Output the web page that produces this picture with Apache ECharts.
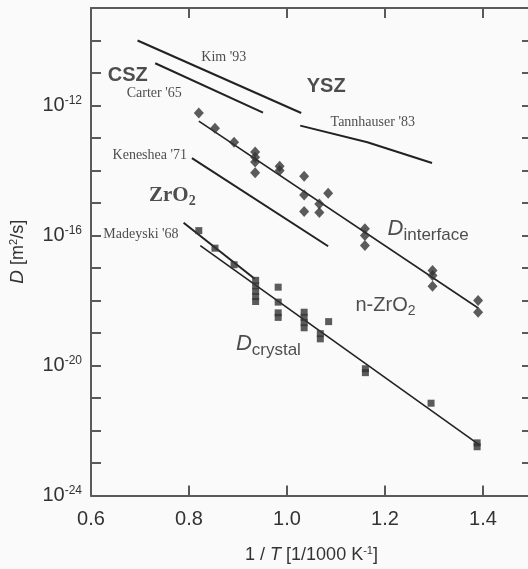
<!DOCTYPE html>
<html><head><meta charset="utf-8">
<script src="https://cdn.jsdelivr.net/npm/echarts@6/dist/echarts.min.js"></script>
<style>html,body{margin:0;padding:0;background:#fafafa;overflow:hidden}#c{width:540px;height:569px}</style>
</head><body><div id="c"></div>
<script>
// x = 1/T [1/1000 K^-1], y = log10(D [m^2/s])
const kimX = [0.695, 1.029], kimY = [-10.0, -12.23];
const carterX = [0.731, 0.951], carterY = [-10.70, -12.22];
const tannX = [1.027, 1.164, 1.296], tannY = [-12.62, -13.13, -13.77];
const keneX = [0.806, 1.084], keneY = [-13.62, -16.33];
const madeX = [0.789, 0.934], madeY = [-15.61, -17.33];

const ifaceX = [0.820, 0.853, 0.892, 0.935, 0.935, 0.935, 0.935, 0.985, 0.985, 1.035, 1.035, 1.035, 1.066, 1.066, 1.084, 1.159, 1.159, 1.159, 1.297, 1.297, 1.297, 1.390, 1.390];
const ifaceY = [-12.23, -12.70, -13.13, -13.43, -13.59, -13.74, -14.07, -13.87, -14.00, -14.18, -14.75, -15.26, -15.03, -15.29, -14.70, -15.79, -16.00, -16.31, -17.08, -17.23, -17.56, -18.00, -18.36];
const ifaceFitX = [0.820, 1.390], ifaceFitY = [-12.48, -18.23];

const crysX = [0.820, 0.853, 0.892, 0.936, 0.936, 0.936, 0.936, 0.936, 0.982, 0.982, 0.982, 0.982, 1.035, 1.035, 1.035, 1.035, 1.085, 1.068, 1.068, 1.160, 1.160, 1.294, 1.388, 1.388];
const crysY = [-15.85, -16.39, -16.90, -17.38, -17.55, -17.72, -17.88, -18.03, -17.59, -18.05, -18.38, -18.52, -18.36, -18.52, -18.68, -18.84, -18.65, -19.02, -19.18, -20.10, -20.22, -21.16, -22.38, -22.50];
const crysFitX = [0.823, 1.394], crysFitY = [-16.31, -22.46];

const xTicks = [0.6, 0.8, 1.0, 1.2, 1.4];
const yLabelExps = [-24, -20, -16, -12];

// annotation texts at data positions
const annText = ["Kim '93", "Carter '65", "Tannhauser '83", "Keneshea '71", "Madeyski '68", "CSZ", "YSZ", "ZrO2", "Dinterface", "n-ZrO2", "Dcrystal"];
const annX = [0.871, 0.729, 1.175, 0.720, 0.702, 0.675, 1.080, 0.766, 1.288, 1.201, 0.962];
const annY = [-10.53, -11.64, -12.53, -13.52, -15.97, -11.08, -11.40, -14.77, -15.79, -18.15, -19.33];

const zip = (xs, ys) => xs.map((x, i) => [x, ys[i]]);
const INK = '#222', AX = '#5a5a5a', TXT = '#222';
const SANS = 'Liberation Sans, Arial, sans-serif', SERIF = 'Liberation Serif, Times New Roman, serif';

const richAll = {
  ser: {fontFamily: SERIF, fontSize: 14, color: TXT},
  bs: {fontFamily: SANS, fontSize: 20, fontWeight: 'bold', color: TXT},
  zr: {fontFamily: SERIF, fontSize: 21, fontWeight: 'bold', color: TXT},
  zrs: {fontFamily: SERIF, fontSize: 14, fontWeight: 'bold', color: TXT, padding: [12, 0, 0, 0]},
  dI: {fontFamily: SANS, fontSize: 22, fontStyle: 'italic', color: TXT},
  sub: {fontFamily: SANS, fontSize: 17, color: TXT, padding: [14, 0, 0, 0]},
  n: {fontFamily: SANS, fontSize: 20, color: TXT},
  ns: {fontFamily: SANS, fontSize: 14, color: TXT, padding: [12, 0, 0, 0]}
};
function annFormat(t) {
  if (t === 'CSZ' || t === 'YSZ') return '{bs|' + t + '}';
  if (t === 'ZrO2') return '{zr|ZrO}{zrs|2}';
  if (t === 'n-ZrO2') return '{n|n-ZrO}{ns|2}';
  if (t === 'Dinterface') return '{dI|D}{sub|interface}';
  if (t === 'Dcrystal') return '{dI|D}{sub|crystal}';
  return '{ser|' + t + '}';
}
const annData = annText.map((t, i) => ({value: [annX[i], annY[i]], label: {formatter: annFormat(t)}}));

const lineSeries = (name, xs, ys, w) => ({
  type: 'line', name, data: zip(xs, ys), showSymbol: false, symbol: 'none',
  lineStyle: {color: INK, width: w}, silent: true, z: 2
});

const chart = echarts.init(document.getElementById('c'), null, {renderer: 'canvas'});
chart.setOption({
  animation: false,
  backgroundColor: '#fafafa',
  grid: {left: 88, top: 8, width: 444, height: 489, containLabel: false},
  xAxis: [{
    type: 'value', min: 0.6, max: 1.5, interval: 0.2, position: 'bottom',
    axisLine: {lineStyle: {color: AX, width: 2}},
    axisTick: {inside: true, length: 10, lineStyle: {color: AX, width: 2}},
    splitLine: {show: false},
    axisLabel: {fontFamily: SANS, fontSize: 20, color: '#333', margin: 14,
      formatter: v => xTicks.some(t => Math.abs(t - v) < 1e-6) ? v.toFixed(1) : ''},
    name: '1 / {i|T} [1/1000 K{s|-1}]', nameLocation: 'middle', nameGap: 50,
    nameTextStyle: {fontFamily: SANS, fontSize: 18, color: '#333',
      rich: {i: {fontFamily: SANS, fontSize: 18, fontStyle: 'italic', color: '#333'},
             s: {fontFamily: SANS, fontSize: 11, color: '#333', verticalAlign: 'top', padding: [0, 0, 8, 0]}}}
  }, {
    type: 'value', min: 0.6, max: 1.5, interval: 0.2, position: 'top',
    axisLine: {lineStyle: {color: AX, width: 2}},
    axisTick: {inside: true, length: 10, lineStyle: {color: AX, width: 2}},
    axisLabel: {show: false}, splitLine: {show: false}
  }],
  yAxis: [{
    type: 'value', min: -24, max: -9, interval: 1, position: 'left',
    axisLine: {lineStyle: {color: AX, width: 2}},
    axisTick: {inside: true, length: 10, lineStyle: {color: AX, width: 2}},
    splitLine: {show: false},
    axisLabel: {margin: 9, fontFamily: SANS, color: '#333',
      formatter: v => yLabelExps.indexOf(v) >= 0 ? '{b|10}{s|' + v + '}' : '',
      rich: {b: {fontFamily: SANS, fontSize: 20, color: '#333'},
             s: {fontFamily: SANS, fontSize: 12, color: '#333', padding: [0, 0, 10, 0]}}},
    name: '{i|D} [m{s|2}/s]', nameLocation: 'middle', nameGap: 63, nameRotate: 90,
    nameTextStyle: {fontFamily: SANS, fontSize: 18, color: '#333',
      rich: {i: {fontFamily: SANS, fontSize: 19, fontStyle: 'italic', color: '#333'},
             s: {fontFamily: SANS, fontSize: 11, color: '#333', padding: [0, 0, 9, 0]}}}
  }, {
    type: 'value', min: -24, max: -9, interval: 1, position: 'right',
    axisLine: {lineStyle: {color: AX, width: 2}},
    axisTick: {inside: true, length: 10, lineStyle: {color: AX, width: 2}},
    axisLabel: {show: false}, splitLine: {show: false}
  }],
  series: [
    lineSeries('Kim', kimX, kimY, 2),
    lineSeries('Carter', carterX, carterY, 2),
    lineSeries('Tannhauser', tannX, tannY, 2),
    lineSeries('Keneshea', keneX, keneY, 2),
    lineSeries('Madeyski', madeX, madeY, 2),
    lineSeries('interface fit', ifaceFitX, ifaceFitY, 1.6),
    lineSeries('crystal fit', crysFitX, crysFitY, 1.6),
    {type: 'scatter', name: 'interface', data: zip(ifaceX, ifaceY), symbol: 'diamond', symbolSize: [10, 11],
      itemStyle: {color: '#333'}, silent: true, z: 3},
    {type: 'scatter', name: 'crystal', data: zip(crysX, crysY), symbol: 'rect', symbolSize: 7,
      itemStyle: {color: '#333'}, silent: true, z: 3},
    {type: 'scatter', name: 'annotations', data: annData, symbolSize: 0, silent: true, z: 4,
      label: {show: true, position: 'inside', rich: richAll}}
  ]
});
</script></body></html>
